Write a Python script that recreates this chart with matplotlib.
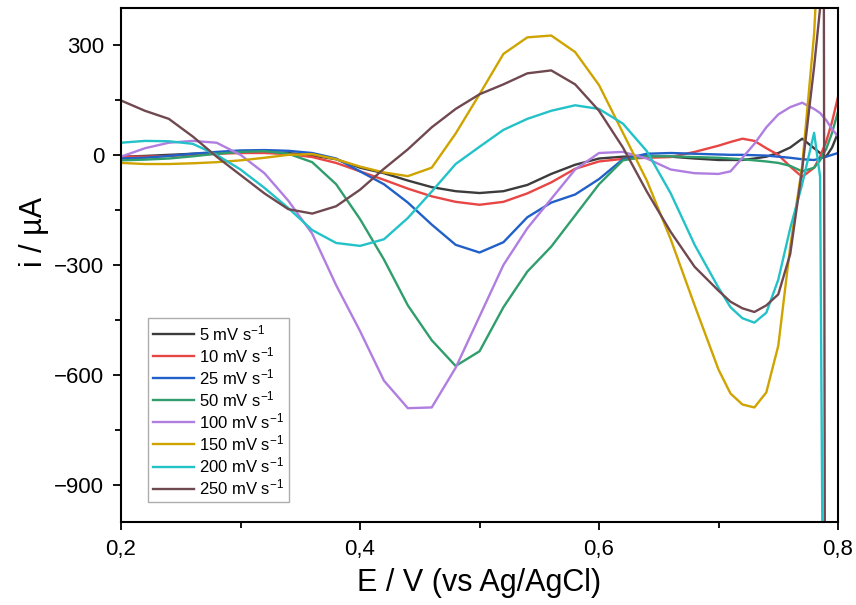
import numpy as np
import matplotlib
matplotlib.use("Agg")
import matplotlib.pyplot as plt
from matplotlib.ticker import MultipleLocator, FuncFormatter

plt.rcParams['font.family'] = ['Liberation Sans', 'DejaVu Sans']
plt.rcParams['mathtext.default'] = 'regular'

nan = np.nan
E = [0.20, 0.22, 0.24, 0.26, 0.28, 0.30, 0.32, 0.34, 0.36, 0.38, 0.40, 0.42, 0.44, 0.46,
     0.48, 0.50, 0.52, 0.54, 0.56, 0.58, 0.60, 0.62, 0.64, 0.66, 0.68, 0.70, 0.71, 0.72,
     0.73, 0.74, 0.75, 0.76, 0.77, 0.78, 0.785, 0.788, 0.79, 0.795, 0.80]

i_5 = [-5, -3, 0, 3, 5, 6, 7, 5, -2, -12, -35, -50, -70, -88,
       -99, -104, -99, -82, -52, -27, -10, -5, -4, -5, -10, -14, -14, -14,
       -10, -5, 5, 20, 44, 18, 5, -2, -5, 20, 60]
i_10 = [-5, -5, -3, 0, 3, 5, 5, 2, -6, -22, -45, -68, -92, -113,
        -128, -136, -128, -105, -75, -38, -18, -11, -8, -6, 8, 25, 35, 44,
        38, 18, 0, -32, -60, -35, -5, 20, 35, 90, 158]
i_25 = [-10, -8, -3, 3, 8, 12, 13, 11, 5, -10, -45, -80, -130, -190,
        -245, -266, -238, -170, -130, -108, -66, -12, 3, 5, 3, 1, 0, 0,
        -1, -2, -5, -8, -12, -14, -10, -7, -5, 0, 5]
i_50 = [-15, -13, -10, -4, 3, 8, 10, 3, -20, -80, -175, -285, -410, -505,
        -575, -535, -415, -318, -250, -165, -80, -15, -4, -4, -6, -8, -10, -12,
        -15, -18, -22, -30, -45, -35, -15, 5, 15, 60, 118]
i_100 = [-5, 18, 33, 38, 33, 0, -50, -125, -215, -355, -480, -615, -690, -688,
         -580, -440, -300, -200, -120, -40, 5, 8, -10, -40, -50, -52, -45, -8,
         30, 75, 110, 130, 142, 125, 114, 102, 95, 70, 50]
i_150 = [-22, -25, -25, -23, -20, -15, -8, 0, 2, -12, -32, -48, -58, -35,
         58, 165, 275, 320, 325, 280, 190, 60, -70, -230, -410, -585, -650, -680,
         -688, -647, -520, -250, -30, 330, 650, nan, nan, nan, nan]
i_200 = [33, 38, 37, 30, 0, -40, -90, -145, -205, -240, -248, -230, -172, -100,
         -25, 22, 68, 98, 120, 135, 125, 85, 10, -105, -245, -362, -415, -445,
         -457, -430, -340, -200, -80, 60, -60, -1600, nan, nan, nan]
i_250 = [148, 120, 98, 50, -5, -55, -105, -148, -160, -140, -95, -38, 15, 75,
         125, 165, 192, 222, 230, 192, 120, 20, -100, -210, -305, -370, -400, -418,
         -428, -410, -380, -270, -40, 240, 400, 700, -3000, nan, nan]

labels = ['5 mV s$^{-1}$', '10 mV s$^{-1}$', '25 mV s$^{-1}$', '50 mV s$^{-1}$',
          '100 mV s$^{-1}$', '150 mV s$^{-1}$', '200 mV s$^{-1}$', '250 mV s$^{-1}$']
series = [i_5, i_10, i_25, i_50, i_100, i_150, i_200, i_250]
colors = ['#3c3c3c', '#e84545', '#2060c8', '#2f9e6c', '#b07ee0', '#cfa400', '#22c2c8', '#704850']

fig = plt.figure(figsize=(8.56, 6.05), dpi=100)
ax = fig.add_axes([0.1414, 0.1372, 0.9790 - 0.1414, 0.9868 - 0.1372])

for y, c, lab in zip(series, colors, labels):
    ax.plot(E, y, color=c, lw=1.7, label=lab)

ax.set_xlim(0.2, 0.8)
ax.set_ylim(-1000, 400)
ax.xaxis.set_major_locator(MultipleLocator(0.2))
ax.xaxis.set_minor_locator(MultipleLocator(0.1))
ax.yaxis.set_major_locator(MultipleLocator(300))
ax.yaxis.set_minor_locator(MultipleLocator(150))
ax.xaxis.set_major_formatter(FuncFormatter(lambda v, p: f"{v:.1f}".replace('.', ',')))
ax.yaxis.set_major_formatter(FuncFormatter(lambda v, p: f"{int(round(v))}".replace('-', '\u2212')))

ax.tick_params(which='major', direction='out', length=6, width=1.3, labelsize=16, pad=6)
ax.tick_params(which='minor', direction='out', length=4, width=1.3)
for s in ax.spines.values():
    s.set_linewidth(1.5)

ax.set_xlabel('E / V (vs Ag/AgCl)', fontsize=22, labelpad=6)
ax.set_ylabel('i / \u00b5A', fontsize=22)
ax.yaxis.set_label_coords(-0.100, 0.565)

leg = ax.legend(loc='lower left', bbox_to_anchor=(0.037, 0.038), borderaxespad=0,
                fontsize=12, frameon=True, fancybox=False, handlelength=2.5,
                handletextpad=0.3, labelspacing=0.13, borderpad=0.3)
leg.get_frame().set_edgecolor('#999999')
leg.get_frame().set_linewidth(1.0)

fig.savefig('out.png', dpi=100)
